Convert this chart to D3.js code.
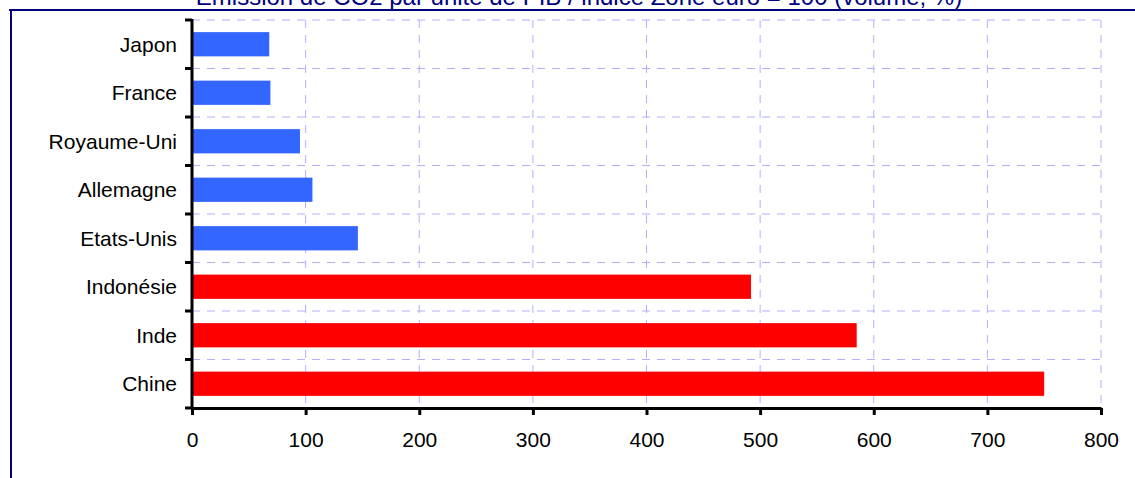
<!DOCTYPE html>
<html><head><meta charset="utf-8">
<script src="https://cdn.jsdelivr.net/npm/d3@7"></script>
<style>body{margin:0;background:#fff;} text{font-family:"Liberation Sans",Arial,sans-serif;}</style>
</head><body>
<svg id="c" width="1135" height="478"></svg>
<script>
const categories = ["Japon","France","Royaume-Uni","Allemagne","Etats-Unis","Indonésie","Inde","Chine"];
const values = [68, 69, 95, 106, 146, 492, 585, 750];
const colors = ["#3366ff","#3366ff","#3366ff","#3366ff","#3366ff","#ff0000","#ff0000","#ff0000"];
const xTicks = [0,100,200,300,400,500,600,700,800];
const title = "Emission de CO2 par unité de PIB / indice Zone euro = 100 (volume, %)";

const svg = d3.select("#c");
const m = {left:192, right:1101, top:20, bottom:408};
const x = d3.scaleLinear().domain([0,800]).range([m.left, m.right]);
const y = d3.scaleBand().domain(categories).range([m.top, m.bottom]).paddingInner(0.5).paddingOuter(0.25);

// frame
svg.append("line").attr("x1",9).attr("x2",1135).attr("y1",10).attr("y2",10).attr("stroke","#000080").attr("stroke-width",2);
svg.append("line").attr("x1",11).attr("x2",11).attr("y1",9).attr("y2",478).attr("stroke","#000080").attr("stroke-width",2);

svg.append("text").attr("x",579).attr("y",5).attr("text-anchor","middle").attr("fill","#000080")
  .attr("font-size",24).text(title);

// grid
const step = (m.bottom - m.top)/categories.length;
const gridY = d3.range(categories.length).map(i => m.top + i*step);
svg.append("g").selectAll("line").data(gridY).join("line")
  .attr("x1",m.left).attr("x2",m.right).attr("y1",d=>d).attr("y2",d=>d)
  .attr("stroke","#b0b0ff").attr("stroke-dasharray","8,7");
svg.append("g").selectAll("line").data(xTicks.slice(1)).join("line")
  .attr("x1",d=>x(d)).attr("x2",d=>x(d)).attr("y1",m.top).attr("y2",m.bottom)
  .attr("stroke","#b0b0ff").attr("stroke-dasharray","8,7");

// bars
svg.append("g").selectAll("rect").data(categories).join("rect")
  .attr("x",x(0)).attr("y",d=>y(d)).attr("height",y.bandwidth())
  .attr("width",(d,i)=>x(values[i])-x(0)).attr("fill",(d,i)=>colors[i]);

// bottom axis
const xa = svg.append("g").attr("transform",`translate(0,${m.bottom})`)
  .call(d3.axisBottom(x).tickValues(xTicks).tickSize(7).tickPadding(17).tickSizeOuter(0));
xa.select(".domain").attr("stroke","#000").attr("stroke-width",3);
xa.selectAll(".tick line").attr("stroke","#000").attr("stroke-width",3);
xa.selectAll("text").attr("font-size",21).attr("fill","#000").attr("font-family","Liberation Sans, Arial, sans-serif");

// left axis
const ya = svg.append("g").attr("transform",`translate(${m.left},0)`);
ya.append("line").attr("x1",0).attr("x2",0).attr("y1",m.top-1).attr("y2",m.bottom+1).attr("stroke","#000").attr("stroke-width",3);
ya.selectAll("line.t").data(gridY.concat([m.bottom])).join("line").attr("class","t")
  .attr("x1",-7).attr("x2",0).attr("y1",d=>d).attr("y2",d=>d).attr("stroke","#000").attr("stroke-width",3);
ya.selectAll("text").data(categories).join("text")
  .attr("x",-15).attr("y",d=>y(d)+y.bandwidth()/2).attr("dy","0.35em").attr("text-anchor","end")
  .attr("font-size",21).attr("fill","#000").text(d=>d);
</script>
</body></html>
